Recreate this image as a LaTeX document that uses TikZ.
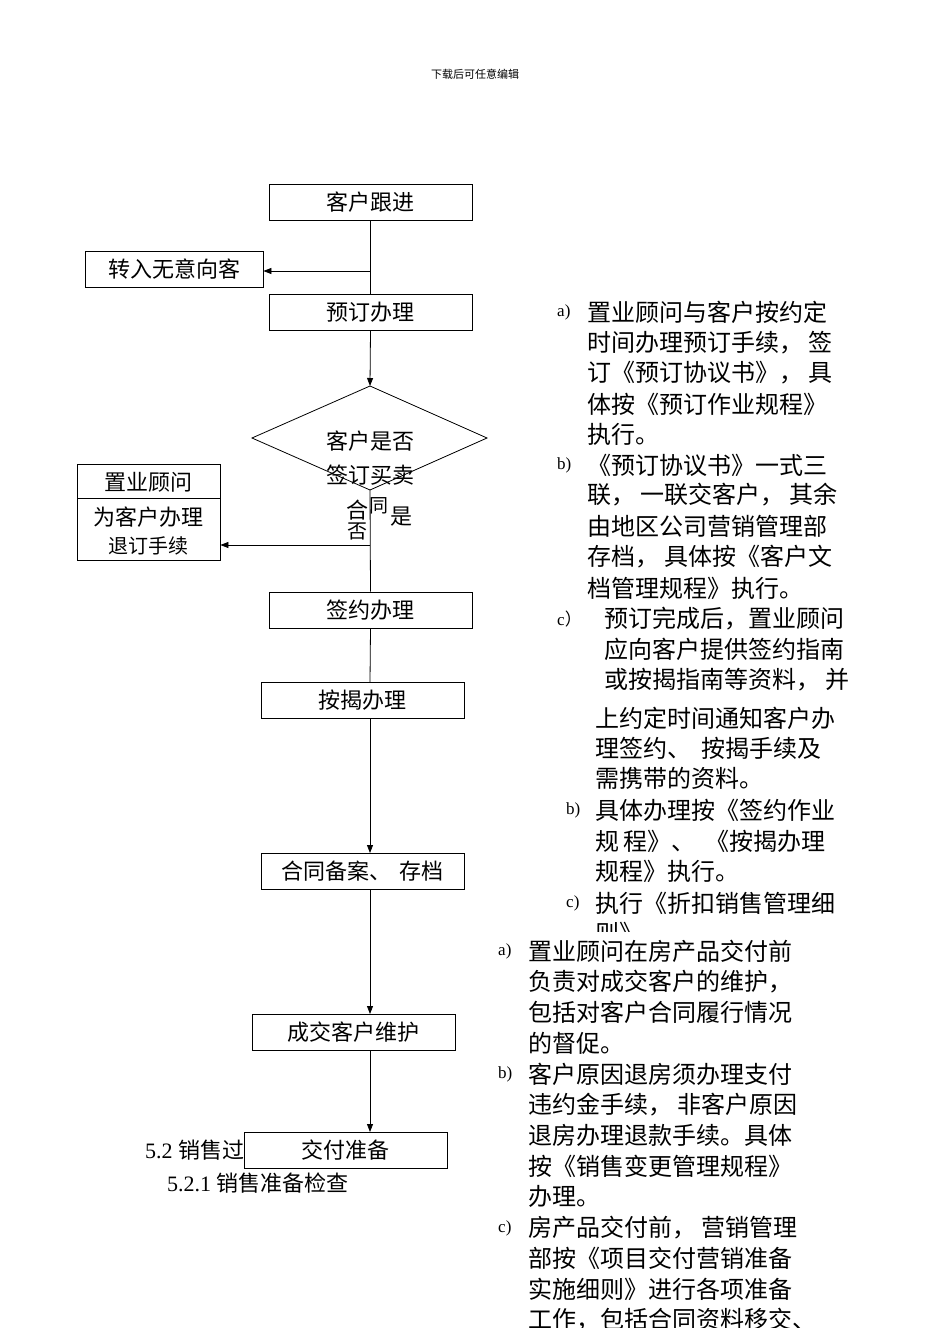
\documentclass[tikz,border=0pt]{standalone}
\usepackage{fontspec}
\newfontfamily\cjk{Noto Sans CJK SC}
\newfontfamily\lat{Liberation Serif}
\usetikzlibrary{arrows.meta}
\begin{document}
\begin{tikzpicture}[x=1pt,y=-1pt,
  box/.style={draw,thick,fill=white,minimum width=203pt,minimum height=36pt,inner sep=0pt,font=\cjk\fontsize{22}{24}\selectfont},
  tx/.style={anchor=west,inner sep=0pt,font=\cjk\fontsize{24}{26}\selectfont},
  lb/.style={anchor=west,inner sep=0pt,font=\lat\fontsize{17}{20}\selectfont},
  arr/.style={thick,-{Triangle[length=8pt,width=6pt]}}]
\useasboundingbox (0,0) rectangle (950,1344);
\node[font=\cjk\fontsize{11}{12}\selectfont] (title) at (475,74) {下载后可任意编辑};
\node[anchor=west,inner sep=0pt,font=\cjk\fontsize{22}{24}\selectfont] (s52) at (145,1150) {{\lat 5.2 }销售过程};
\node[anchor=west,inner sep=0pt,font=\cjk\fontsize{22}{24}\selectfont] (s521) at (167,1183) {{\lat 5.2.1 }销售准备检查};
% boxes
\node[box] (b1) at (370.5,202.5) {客户跟进};
\node[box,minimum width=178pt] (b0) at (174,269) {转入无意向客};
\node[box] (b2) at (370.5,312) {预订办理};
\draw[thick] (252,438) -- (370,386) -- (487,438) -- (370,490) -- cycle;
\coordinate (dtop) at (370,386);
\coordinate (dbot) at (370,490);
\node[box,minimum width=143pt,minimum height=96pt] (b3) at (148.5,512) {};
\draw[thick] (77,498) -- (220,498);
\node[font=\cjk\fontsize{22}{24}\selectfont] (t3a) at (148.5,482) {置业顾问};
\node[font=\cjk\fontsize{22}{24}\selectfont] (t3b) at (148.5,517) {为客户办理};
\node[font=\cjk\fontsize{20}{24}\selectfont] (t3c) at (148.5,546) {退订手续};
\node[box] (b4) at (370.5,610) {签约办理};
\node[box] (b5) at (362.5,700) {按揭办理};
\node[box] (b6) at (362.5,871) {合同备案、\, 存档};
\node[box] (b7) at (353.5,1032) {成交客户维护};
\node[box] (b8) at (345.5,1150) {交付准备};
% connectors
\coordinate (j1) at (370,271);
\coordinate (j2) at (370,545);
\draw[thick] (b1.south) -- (b2.north);
\draw[arr] (j1) -- (j1 -| b0.east);
\draw[arr] (b2.south) -- (dtop);
\draw[thick] (dbot) -- (b4.north);
\draw[arr] (j2) -- (j2 -| b3.east);
\draw[thick] (b4.south) -- (370,682);
\draw[arr] (370,718) -- (370,853);
\draw[arr] (370,889) -- (370,1014);
\draw[arr] (370,1050) -- (370,1132);
% diamond text
\node[font=\cjk\fontsize{22}{24}\selectfont] (q1) at (370,441) {客户是否};
\node[font=\cjk\fontsize{22}{24}\selectfont] (q2) at (370,475) {签订买卖};
\node[font=\cjk\fontsize{22}{24}\selectfont] (q3) at (357,510) {合};
\node[font=\cjk\fontsize{19}{22}\selectfont] (q4) at (379,506) {同};
\node[font=\cjk\fontsize{22}{24}\selectfont] (q5) at (401,517) {是};
\node[font=\cjk\fontsize{20}{22}\selectfont] (q6) at (357,531) {否};
% right text block 1
\node[lb] (la) at (557,312) {a)};
\node[tx] at (587,312) {置业顾问与客户按约定};
\node[tx] at (587,343) {时间办理预订手续，\ 签};
\node[tx] at (587,373) {订《预订协议书》，\ 具};
\node[tx] at (587,404) {体按《预订作业规程》};
\node[tx] at (587,434) {执行。};
\node[lb] at (557,465) {b)};
\node[tx] at (587,465) {《预订协议书》一式三};
\node[tx] at (587,495) {联，\ 一联交客户，\ 其余};
\node[tx] at (587,526) {由地区公司营销管理部};
\node[tx] at (587,557) {存档，\ 具体按《客户文};
\node[tx] at (587,588) {档管理规程》执行。};
\node[lb] at (557,619) {c{\cjk\fontsize{17}{20}\selectfont ）}};
\node[tx] at (604,619) {预订完成后，置业顾问};
\node[tx] at (604,649) {应向客户提供签约指南};
\node[tx] at (604,680) {或按揭指南等资料，\ 并};
\node[tx] at (595,718) {上约定时间通知客户办};
\node[tx] at (595,748) {理签约、\ \ 按揭手续及};
\node[tx] at (595,778) {需携带的资料。};
\node[lb] at (566,810) {b)};
\node[tx] at (595,810) {具体办理按《签约作业};
\node[tx] at (595,841) {规\,程》、\ \ 《按揭办理};
\node[tx] at (595,871) {规程》执行。};
\node[lb] at (566,903) {c)};
\node[tx] at (595,903) {执行《折扣销售管理细};
\begin{scope}
\clip (580,918) rectangle (700,931);
\node[tx] at (595,933) {则》};
\end{scope}
% block 3
\node[lb] at (498,951) {a)};
\node[tx] at (528,951) {置业顾问在房产品交付前};
\node[tx] at (528,982) {负责对成交客户的维护，};
\node[tx] at (528,1012) {包括对客户合同履行情况};
\node[tx] at (528,1043) {的督促。};
\node[lb] at (498,1074) {b)};
\node[tx] at (528,1074) {客户原因退房须办理支付};
\node[tx] at (528,1105) {违约金手续，\ 非客户原因};
\node[tx] at (528,1135) {退房办理退款手续。具体};
\node[tx] at (528,1166) {按《销售变更管理规程》};
\node[tx] at (528,1196) {办理。};
\node[lb] at (498,1228) {c)};
\node[tx] at (528,1228) {房产品交付前，\ 营销管理};
\node[tx] at (528,1258) {部按《项目交付营销准备};
\node[tx] at (528,1289) {实施细则》进行各项准备};
\begin{scope}
\clip (500,1300) rectangle (850,1327);
\node[tx] at (528,1320) {工作，包括合同资料移交、};
\end{scope}
\end{tikzpicture}
\end{document}
